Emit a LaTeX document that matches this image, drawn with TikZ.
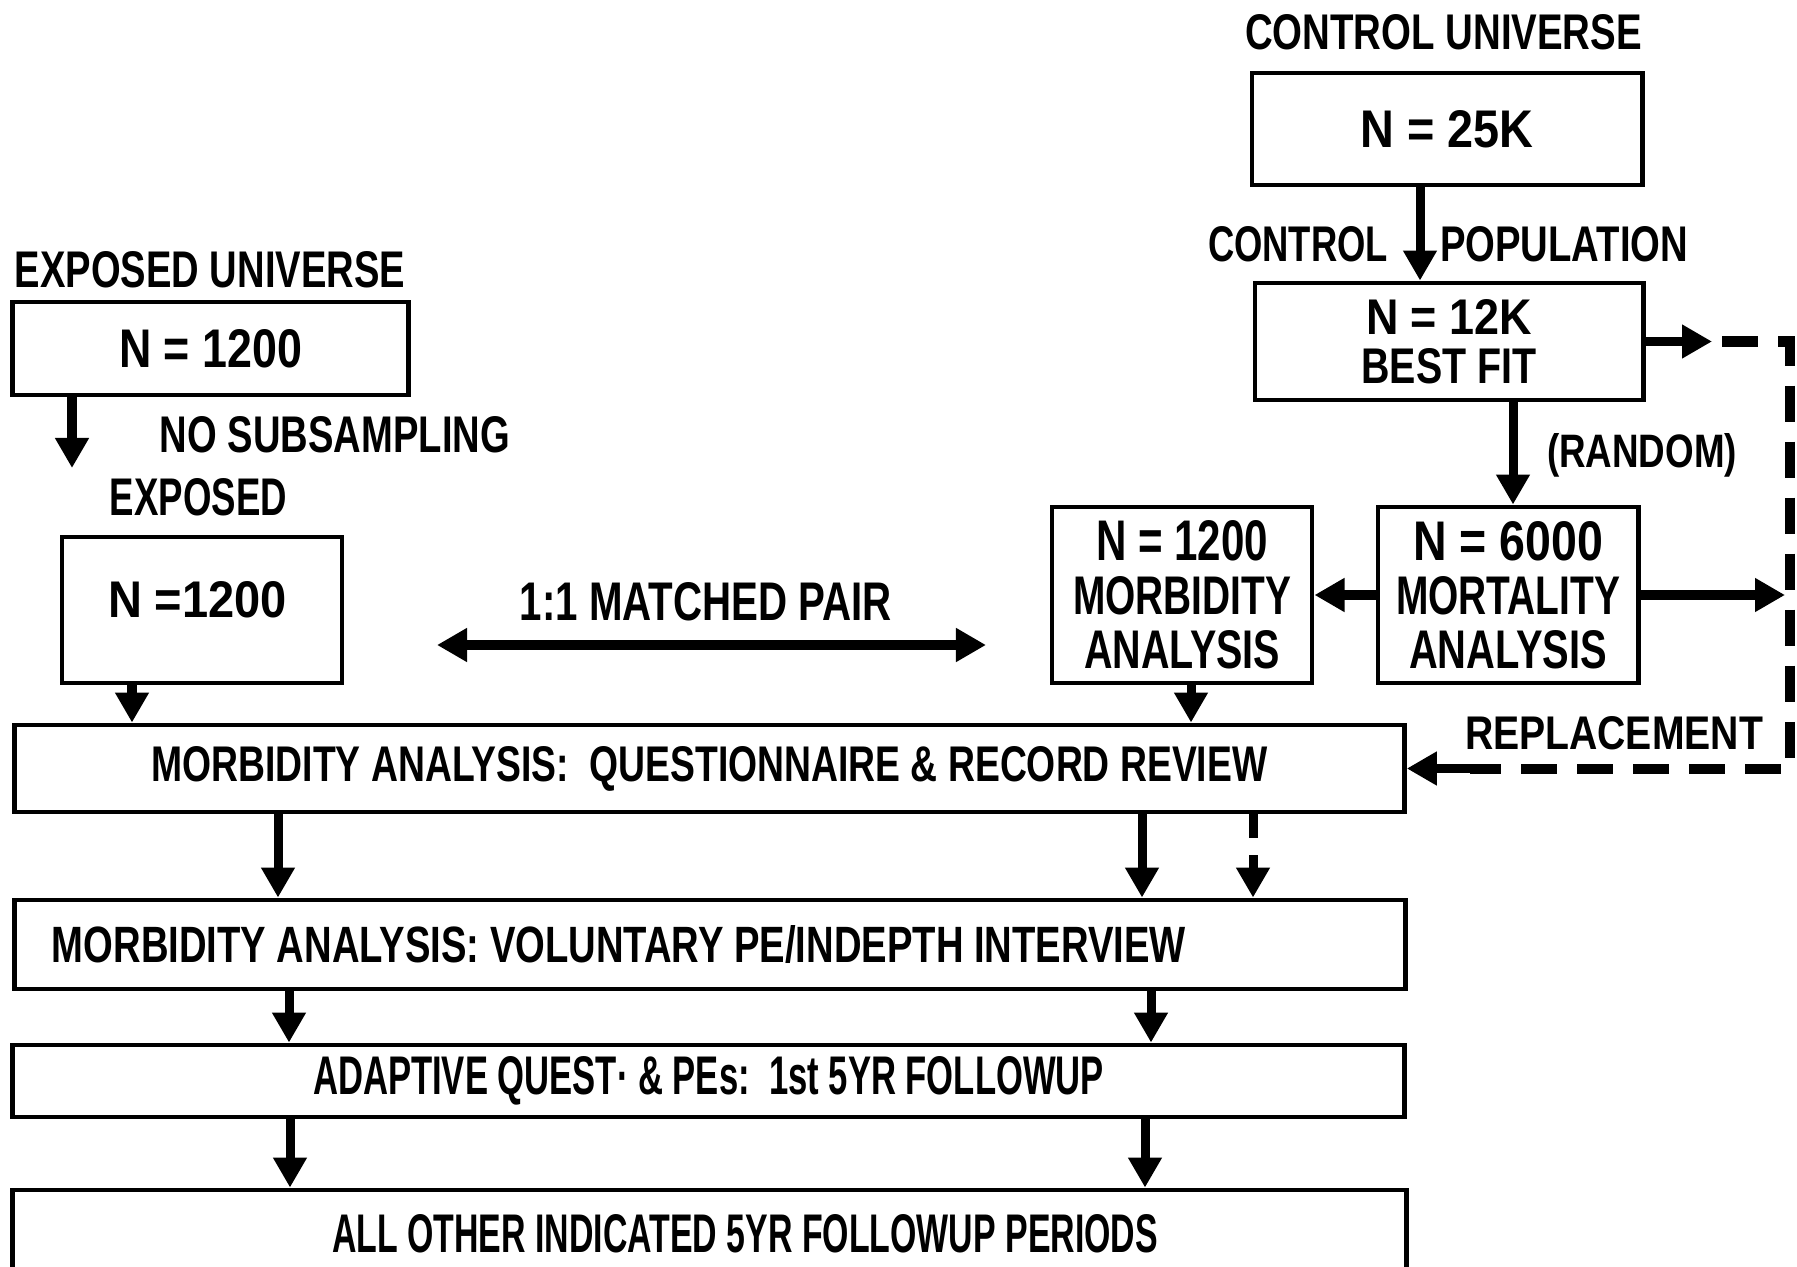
\documentclass[tikz,border=0pt]{standalone}
\usepackage{fontspec}
\usepackage{graphicx}
\usetikzlibrary{arrows.meta}
\newfontfamily\labfont{Liberation Sans}
% one drawing unit = 0.01cm
\newdimen\pxu \pxu=0.01cm
% bold lettering squeezed to a given width and cap height (in drawing units)
\newcommand\fitpx[3]{\resizebox{#1\pxu}{#2\pxu}{\labfont\bfseries #3}}

\begin{document}
\begin{tikzpicture}[x=0.01cm, y=-0.01cm,
  box/.style={draw, line width=0.048cm, inner sep=0pt, align=center},
  lab/.style={inner sep=0pt},
  tip/.tip={Triangle[length=0.30cm, width=0.32cm]},
  arr/.style={line width=0.09cm, -tip},
  dblarr/.style={line width=0.09cm, tip-tip},
  dashline/.style={line width=0.10cm, dash pattern=on 0.36cm off 0.20cm},
  twoline/.style={font=\fontsize{10pt}{0.485cm}\selectfont},
  threeline/.style={font=\fontsize{10pt}{0.54cm}\selectfont}]

\useasboundingbox (0,0) rectangle (1797,1267);
\clip (0,0) rectangle (1797,1267);

% ---- exposed side ----
\node[lab] (euLab) at (210,270) {\fitpx{390}{36}{EXPOSED UNIVERSE}};
\node[box, minimum width=3.95cm, minimum height=0.93cm] (eu) at (210.5,348.5)
  {\fitpx{183}{38}{N = 1200}};
\node[lab] (nsLab) at (335,435) {\fitpx{350}{36}{NO SUBSAMPLING}};
\node[lab] (exLab) at (198.5,497) {\fitpx{177}{37}{EXPOSED}};
\node[box, minimum width=2.80cm, minimum height=1.46cm] (ex) at (202,610) {};
\node[lab] (exTxt) at (197.5,600) {\fitpx{179}{36}{N =1200}};

% ---- control side ----
\node[lab] (cuLab) at (1443.5,32.5) {\fitpx{397}{35}{CONTROL UNIVERSE}};
\node[box, minimum width=3.90cm, minimum height=1.12cm] (cu) at (1447,129)
  {\fitpx{173}{37}{N = 25K}};
\node[lab] (cpLabA) at (1298,244) {\fitpx{180}{35}{CONTROL}};
\node[lab] (cpLabB) at (1564,244) {\fitpx{248}{35}{POPULATION}};
\node[box, twoline, minimum width=3.88cm, minimum height=1.17cm] (cp) at (1449,341.5)
  {\fitpx{166}{35}{N = 12K}\\\fitpx{175}{35}{BEST FIT}};
\node[lab] (rdLab) at (1642,455) {\fitpx{190}{34}{(RANDOM)}};
\node[box, threeline, minimum width=2.60cm, minimum height=1.76cm] (m60) at (1508,595)
  {\fitpx{190}{39}{N = 6000}\\\fitpx{224}{38}{MORTALITY}\\\fitpx{198}{38}{ANALYSIS}};
\node[box, threeline, minimum width=2.60cm, minimum height=1.76cm] (m12) at (1182,595)
  {\fitpx{172}{40}{N = 1200}\\\fitpx{218}{38}{MORBIDITY}\\\fitpx{196}{38}{ANALYSIS}};
\node[lab] (rpLab) at (1614,733) {\fitpx{298}{33}{REPLACEMENT}};

% ---- matched pair ----
\node[lab] (mpLab) at (706,602) {\fitpx{372}{38}{1:1 MATCHED PAIR}};
\coordinate (mpL) at (437,645);
\coordinate (mpR) at (986,645);
\draw[dblarr] (mpL) -- (mpR);

% ---- study stages ----
\node[box, minimum width=13.89cm, minimum height=0.87cm] (q) at (709.5,768.5)
  {\fitpx{1116}{35}{MORBIDITY ANALYSIS:\ \ QUESTIONNAIRE \& RECORD REVIEW}};
\node[box, minimum width=13.90cm, minimum height=0.89cm] (v) at (710,944.5) {};
\node[lab, anchor=west] (vt) at ([xshift=0.39cm]v.west)
  {\fitpx{1134}{37}{MORBIDITY ANALYSIS:\ VOLUNTARY PE/INDEPTH INTERVIEW}};
\node[box, minimum width=13.91cm, minimum height=0.72cm] (a) at (708.5,1081)
  {\fitpx{791}{38}{ADAPTIVE QUEST· \& PEs:\ \ 1st 5YR FOLLOWUP}};
\node[box, minimum width=13.93cm, minimum height=0.88cm] (o) at (709.5,1234) {};
\node[lab] (ot) at ([xshift=0.355cm]o.center)
  {\fitpx{826}{38}{ALL OTHER INDICATED 5YR FOLLOWUP PERIODS}};

% ---- arrow columns ----
\coordinate (xA) at (72,0);
\coordinate (nsEnd) at (72,468);
\coordinate (xB) at (132,0);
\coordinate (xC) at (1191,0);
\coordinate (xCu) at (1420,0);
\coordinate (xCp) at (1513,0);
\coordinate (xL1) at (278,0);
\coordinate (xR1) at (1142,0);
\coordinate (xD) at (1253,0);
\coordinate (xL2) at (289,0);
\coordinate (xR2) at (1151,0);
\coordinate (xL3) at (290,0);
\coordinate (xR3) at (1145,0);

\draw[arr] (eu.south -| xA) -- (nsEnd);
\draw[arr] (ex.south -| xB) -- (q.north -| xB);
\draw[arr] (m12.south -| xC) -- (q.north -| xC);
\draw[arr] (cu.south -| xCu) -- (cp.north -| xCu);
\draw[arr] (cp.south -| xCp) -- (m60.north -| xCp);
\draw[arr] (m60.west) -- (m12.east);

\draw[arr] (q.south -| xL1) -- (v.north -| xL1);
\draw[arr] (q.south -| xR1) -- (v.north -| xR1);
\draw[arr, dash pattern=on 0.24cm off 0.17cm on 2cm] (q.south -| xD) -- (v.north -| xD);
\draw[arr] (v.south -| xL2) -- (a.north -| xL2);
\draw[arr] (v.south -| xR2) -- (a.north -| xR2);
\draw[arr] (a.south -| xL3) -- (o.north -| xL3);
\draw[arr] (a.south -| xR3) -- (o.north -| xR3);

% ---- replacement loop ----
\coordinate (dV) at (1790,0);
\coordinate (dVin) at (1785,0);
\coordinate (dTip) at (1712,0);
\coordinate (dS) at (1722,0);
\coordinate (dE) at (1470,0);
\draw[arr] (cp.east) -- (cp.east -| dTip);
\draw[dashline] (cp.east -| dS) -- (cp.east -| dV) -- (q.east -| dV) -- (q.east -| dE);
\draw[arr] (q.east -| dE) -- (q.east);
\draw[arr] (m60.east) -- (m60.east -| dVin);
\end{tikzpicture}
\end{document}
